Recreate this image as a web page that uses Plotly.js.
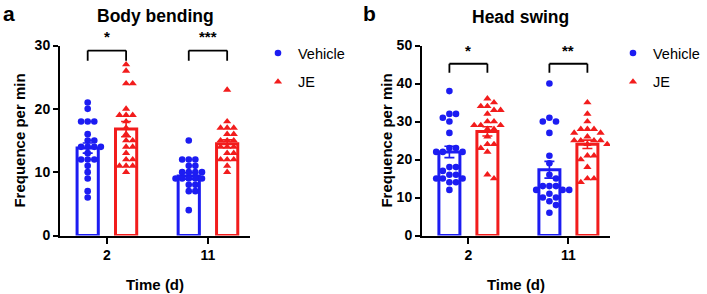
<!DOCTYPE html>
<html>
<head>
<meta charset="utf-8">
<script src="https://cdn.plot.ly/plotly-3.0.1.min.js"></script>
<style>html,body{margin:0;padding:0;background:#fff;}#chart{width:707px;height:294px;}</style>
</head>
<body>
<div id="chart"></div>
<script>
// ---------------- data ----------------
const days = ['2', '11'];
const groups = ['Vehicle', 'JE'];

// Panel a: Body bending (frequence per min)
const bendVehicleD2 = [21,20,18,18,18,16,15,15,14,14,14,14,13,12,12,12,11,10,9,7,6];
const bendJED2      = [27,26,24,24,20,19,19,19,18,17,16,15,15,14,14,13,12,12,11,11,11,10];
const bendVehicleD11 = [15,12,12,12,11,11,10,10,10,10,9,9,9,9,9,8,8,7,7,4];
const bendJED11      = [23,18,17,17,17,16,16,15,15,15,14,14,14,13,13,12,12,12,11,10];
const bendVehicleMean = [13.8, 9.4];
const bendJEMean      = [16.8, 14.5];
const bendVehicleSEM  = [0.8, 0.5];
const bendJESEM       = [1.2, 0.6];

// Panel b: Head swing (frequence per min)
const swingVehicleD2 = [38,32,32,31,30,27,23,23,22,22,22,18,18,17,16,16,15,15,15,14,14,12];
const swingJED2      = [36,35,34,34,33,33,32,30,30,29,29,29,28,28,26,24,24,23,22,16,15];
const swingVehicleD11 = [40,31,30,30,27,21,19,16,15,13,13,13,12,12,12,11,10,10,9,8,6];
const swingJED11      = [35,32,30,28,28,28,27,27,26,25,25,25,25,24,24,21,21,20,18,15,15,14];
const swingVehicleMean = [22.0, 17.3];
const swingJEMean      = [27.4, 24.0];
const swingVehicleSEM  = [1.5, 2.2];
const swingJESEM       = [1.2, 1.1];

const sigA = ['*', '***'];
const sigB = ['*', '**'];

// ---------------- styling / layout constants ----------------
const W = 707, H = 294;
const BLUE = '#1c1cf2', RED = '#f21c1c';
const FONT = 'Liberation Sans, Arial, sans-serif';
const XRANGE = [-0.464, 1.416];
const OFF = 0.19, BARW = 0.21;
const domXa = [60 / W, 250 / W];
const domXb = [422 / W, 610 / W];
const domY = [58.5 / H, 248.5 / H];
const YRA = [0, 30], YRB = [0, 50];
const DOT = 6.6;

function pxPerX(dom) { return (dom[1] - dom[0]) * W / (XRANGE[1] - XRANGE[0]); }
function pxPerY(rng) { return (domY[1] - domY[0]) * H / (rng[1] - rng[0]); }

// simple beeswarm: spread points of similar value sideways
function swarm(values, center, dom, rng) {
  const kx = pxPerX(dom), ky = pxPerY(rng);
  const placed = [];
  const xs = new Array(values.length);
  const order = values.map((v, i) => i).sort((a, b) => values[b] - values[a]);
  const step = DOT / 2;
  order.forEach(i => {
    const py = values[i] * ky;
    for (let k = 0; k < 40; k++) {
      const m = Math.ceil(k / 2) * (k % 2 === 1 ? 1 : -1);
      const px = m * step;
      const ok = placed.every(p => Math.hypot(p[0] - px, p[1] - py) >= DOT * 0.85);
      if (ok) { placed.push([px, py]); xs[i] = center + px / kx; break; }
    }
  });
  return xs;
}

function panel(xa, ya, dom, rng, vD2, jD2, vD11, jD11, vMean, jMean, vSem, jSem, legendName) {
  const traces = [];
  traces.push({
    type: 'bar', x: [0 - OFF, 1 - OFF], y: vMean, width: BARW, xaxis: xa, yaxis: ya,
    marker: { color: 'rgba(255,255,255,0)', line: { color: BLUE, width: 3 } },
    error_y: { type: 'data', array: vSem, visible: true, color: BLUE, thickness: 1.6, width: 5 },
    showlegend: false, hoverinfo: 'skip'
  });
  traces.push({
    type: 'bar', x: [0 + OFF, 1 + OFF], y: jMean, width: BARW, xaxis: xa, yaxis: ya,
    marker: { color: 'rgba(255,255,255,0)', line: { color: RED, width: 3 } },
    error_y: { type: 'data', array: jSem, visible: true, color: RED, thickness: 1.6, width: 5 },
    showlegend: false, hoverinfo: 'skip'
  });
  const vx = swarm(vD2, 0 - OFF, dom, rng).concat(swarm(vD11, 1 - OFF, dom, rng));
  const jx = swarm(jD2, 0 + OFF, dom, rng).concat(swarm(jD11, 1 + OFF, dom, rng));
  traces.push({
    type: 'scatter', mode: 'markers', name: groups[0], x: vx, y: vD2.concat(vD11),
    xaxis: xa, yaxis: ya, legend: legendName, legendgroup: legendName + 'v',
    marker: { symbol: 'circle', size: DOT, color: BLUE }
  });
  traces.push({
    type: 'scatter', mode: 'markers', name: groups[1], x: jx, y: jD2.concat(jD11),
    xaxis: xa, yaxis: ya, legend: legendName, legendgroup: legendName + 'j',
    marker: { symbol: 'triangle-up', size: DOT + 0.6, color: RED }
  });
  return traces;
}

const data = [].concat(
  panel('x', 'y', domXa, YRA, bendVehicleD2, bendJED2, bendVehicleD11, bendJED11,
        bendVehicleMean, bendJEMean, bendVehicleSEM, bendJESEM, 'legend'),
  panel('x2', 'y2', domXb, YRB, swingVehicleD2, swingJED2, swingVehicleD11, swingJED11,
        swingVehicleMean, swingJEMean, swingVehicleSEM, swingJESEM, 'legend2')
);

function xAxis(dom, anchor) {
  return {
    domain: dom, anchor: anchor, range: XRANGE, tickmode: 'array', tickvals: [0, 1], ticktext: days,
    showline: true, linecolor: '#000', linewidth: 2, ticks: 'outside', ticklen: 6, tickwidth: 2, tickcolor: '#000',
    showgrid: false, zeroline: false, fixedrange: true,
    tickfont: { family: FONT, size: 14, color: '#000', weight: 'bold' },
    title: { text: 'Time (d)', standoff: 17, font: { family: FONT, size: 15, color: '#000', weight: 'bold' } }
  };
}
function yAxis(dom, anchor, rng, dtick, standoff) {
  return {
    domain: dom, anchor: anchor, range: rng, dtick: dtick,
    showline: true, linecolor: '#000', linewidth: 2, ticks: 'outside', ticklen: 5, tickwidth: 2, tickcolor: '#000',
    showgrid: false, zeroline: false, fixedrange: true,
    tickfont: { family: FONT, size: 14, color: '#000', weight: 'bold' },
    title: { text: 'Frequence per min', standoff: standoff, font: { family: FONT, size: 15, color: '#000', weight: 'bold' } }
  };
}

function bracket(xref, yref, x0, x1, yTop, yLeg) {
  const line = { color: '#000', width: 1.8 };
  return [
    { type: 'line', xref, yref, x0, x1, y0: yTop, y1: yTop, line },
    { type: 'line', xref, yref, x0, x1: x0, y0: yTop, y1: yLeg, line },
    { type: 'line', xref, yref, x0: x1, x1, y0: yTop, y1: yLeg, line }
  ];
}

const shapes = [].concat(
  bracket('x', 'y', 0 - OFF, 0 + OFF, 29.2, 27.6),
  bracket('x', 'y', 1 - OFF, 1 + OFF, 29.2, 27.6),
  bracket('x2', 'y2', 0 - OFF, 0 + OFF, 45.2, 42.8),
  bracket('x2', 'y2', 1 - OFF, 1 + OFF, 45.2, 42.8)
);

const starFont = { family: FONT, size: 15, color: '#000', weight: 'bold' };
const annotations = [
  { xref: 'x', yref: 'y', x: 0, y: 29.7, text: sigA[0], showarrow: false, yanchor: 'bottom', font: starFont },
  { xref: 'x', yref: 'y', x: 1, y: 29.7, text: sigA[1], showarrow: false, yanchor: 'bottom', font: starFont },
  { xref: 'x2', yref: 'y2', x: 0, y: 45.8, text: sigB[0], showarrow: false, yanchor: 'bottom', font: starFont },
  { xref: 'x2', yref: 'y2', x: 1, y: 45.8, text: sigB[1], showarrow: false, yanchor: 'bottom', font: starFont },
  { xref: 'paper', yref: 'paper', x: 1 / W, y: 1 - 0 / H, xanchor: 'left', yanchor: 'top', showarrow: false,
    text: 'a', font: { family: FONT, size: 21, color: '#000', weight: 'bold' } },
  { xref: 'paper', yref: 'paper', x: 361 / W, y: 1 - 0 / H, xanchor: 'left', yanchor: 'top', showarrow: false,
    text: 'b', font: { family: FONT, size: 21, color: '#000', weight: 'bold' } },
  { xref: 'paper', yref: 'paper', x: 155 / W, y: 1 - 16 / H, xanchor: 'center', yanchor: 'middle', showarrow: false,
    text: 'Body bending', font: { family: FONT, size: 17.5, color: '#000', weight: 'bold' } },
  { xref: 'paper', yref: 'paper', x: 520 / W, y: 1 - 17 / H, xanchor: 'center', yanchor: 'middle', showarrow: false,
    text: 'Head swing', font: { family: FONT, size: 17.5, color: '#000', weight: 'bold' } }
];

const legendFont = { family: FONT, size: 14.5, color: '#000' };
const layout = {
  width: W, height: H,
  margin: { l: 0, r: 0, t: 0, b: 0 },
  paper_bgcolor: '#fff', plot_bgcolor: '#fff',
  barmode: 'overlay',
  xaxis: xAxis(domXa, 'y'), yaxis: yAxis(domY, 'x', YRA, 10, 5),
  xaxis2: xAxis(domXb, 'y2'), yaxis2: yAxis(domY, 'x2', YRB, 10, 0),
  shapes, annotations,
  legend: { x: 258 / W, y: 1 - 37 / H, xanchor: 'left', yanchor: 'top', font: legendFont,
            bgcolor: 'rgba(0,0,0,0)', tracegroupgap: 7, traceorder: 'grouped' },
  legend2: { x: 613 / W, y: 1 - 37 / H, xanchor: 'left', yanchor: 'top', font: legendFont,
             bgcolor: 'rgba(0,0,0,0)', tracegroupgap: 7, traceorder: 'grouped' },
  showlegend: true
};

Plotly.newPlot('chart', data, layout, { displayModeBar: false, staticPlot: true });
</script>
</body>
</html>
